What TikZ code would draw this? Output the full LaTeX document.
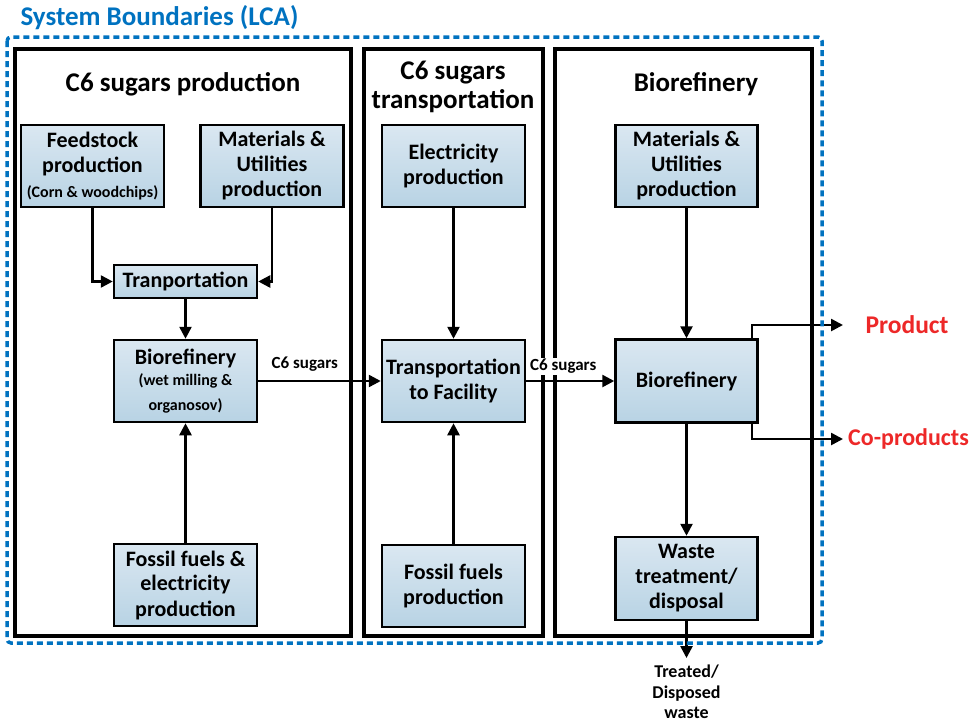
\documentclass[tikz,border=0pt]{standalone}
\usepackage{fontspec}
\setmainfont{Carlito}
\usetikzlibrary{arrows.meta,calc}
\definecolor{boxtop}{RGB}{218,231,241}
\definecolor{boxbot}{RGB}{184,211,228}
\definecolor{lcablue}{RGB}{0,114,192}
\definecolor{outred}{RGB}{237,40,40}
\tikzset{
  procbox/.style={draw=black, line width=2.5pt, top color=boxtop, bottom color=boxbot,
    minimum width=143pt, minimum height=82pt, inner sep=0pt, align=center,
    font=\fontsize{22}{25}\selectfont\bfseries},
  panel/.style={draw=black, line width=3.5pt},
  paneltitle/.style={align=center, font=\fontsize{27}{29}\selectfont\bfseries},
  flow/.style={line width=2.5pt, -{Triangle[length=12pt,width=12pt]}},
  flowlabel/.style={font=\fontsize{17}{18}\selectfont\bfseries, inner sep=1pt},
  outlabel/.style={text=outred, font=\fontsize{25.5}{28}\selectfont\bfseries},
}
\newcommand{\subline}[1]{{\fontsize{16}{18}\selectfont #1}}
\begin{document}
\begin{tikzpicture}[x=1pt,y=-1pt]
\useasboundingbox (0,0) rectangle (973,723);

% title of the system boundary
\node[anchor=west, text=lcablue, font=\fontsize{27}{30}\selectfont\bfseries] (title) at (17,18) {System Boundaries (LCA)};

% three stage panels
\draw[panel] (15,49) rectangle (351,636);
\draw[panel] (364,49) rectangle (543,636);
\draw[panel] (555,49) rectangle (812,636);

\node[paneltitle] (t1) at (183,84) {C6 sugars production};
\node[paneltitle] (t2) at (453,87) {C6 sugars\\transportation};
\node[paneltitle] (t3) at (696,84) {Biorefinery};

% C6 sugars production
\node[procbox] (feed) at (92.5,166) {Feedstock\\production\\[0pt]\subline{(Corn \& woodchips)}};
\node[procbox] (matL) at (272,166) {Materials \&\\Utilities\\production};
\node[procbox, minimum height=33pt] (tranp) at (185.5,281.5) {Tranportation};
\node[procbox] (bioL) at (185.5,381) {Biorefinery\\[-4pt]\subline{(wet milling \&}\\[0pt]\subline{organosov)}};
\node[procbox] (fossL) at (185.5,585) {Fossil fuels \&\\electricity\\production};

% C6 sugars transportation
\node[procbox] (elec) at (453.5,166) {Electricity\\production};
\node[procbox] (trans) at (453.5,381) {Transportation\\to Facility};
\node[procbox] (fossT) at (453.5,586) {Fossil fuels\\production};

% Biorefinery
\node[procbox, minimum width=142pt] (matR) at (686.5,166) {Materials \&\\Utilities\\production};
\node[procbox, minimum width=142pt, minimum height=83pt] (bioR) at (686.5,381) {Biorefinery};
\node[procbox, minimum width=142pt, minimum height=83pt] (waste) at (686.5,578.5) {Waste\\treatment/\\disposal};

% flows
\draw[flow] (feed.south) |- (tranp.west);
\draw[flow] (matL.south) |- (tranp.east);
\draw[flow] (tranp.south) -- (bioL.north);
\draw[flow] (fossL.north) -- (bioL.south);
\draw[flow] (bioL.east) -- node[flowlabel, above=7pt, pos=0.38] (c6a) {C6 sugars} (trans.west);
\draw[flow] (elec.south) -- (trans.north);
\draw[flow] (fossT.north) -- (trans.south);
\draw[flow] (trans.east) -- node[flowlabel, fill=white, above=5pt, pos=0.42] (c6b) {C6 sugars} (bioR.west);
\draw[flow] (matR.south) -- (bioR.north);
\draw[flow] (bioR.south) -- (waste.north);

% outputs
\coordinate (prodtip) at (843,325);
\coordinate (cotip) at (843,439);
\coordinate (wastetip) at (686.5,658);
\draw[flow] ([xshift=-7pt]bioR.north east) |- (prodtip);
\draw[flow] ([xshift=-7pt]bioR.south east) |- (cotip);
\draw[flow] (waste.south) -- (wastetip);
\node[outlabel, anchor=center] (prod) at (907,325) {Product};
\node[outlabel, anchor=center, font=\fontsize{24}{28}\selectfont\bfseries] (coprod) at (908.5,439) {Co-products};
\node[align=center, font=\fontsize{18}{20.5}\selectfont\bfseries] (treated) at (686.5,692) {Treated/\\Disposed\\waste};

% dotted system boundary
\draw[lcablue, line width=3.5pt, dash pattern=on 6pt off 4pt, rounded corners=4pt] (7,37) rectangle (822,643);
\end{tikzpicture}
\end{document}
